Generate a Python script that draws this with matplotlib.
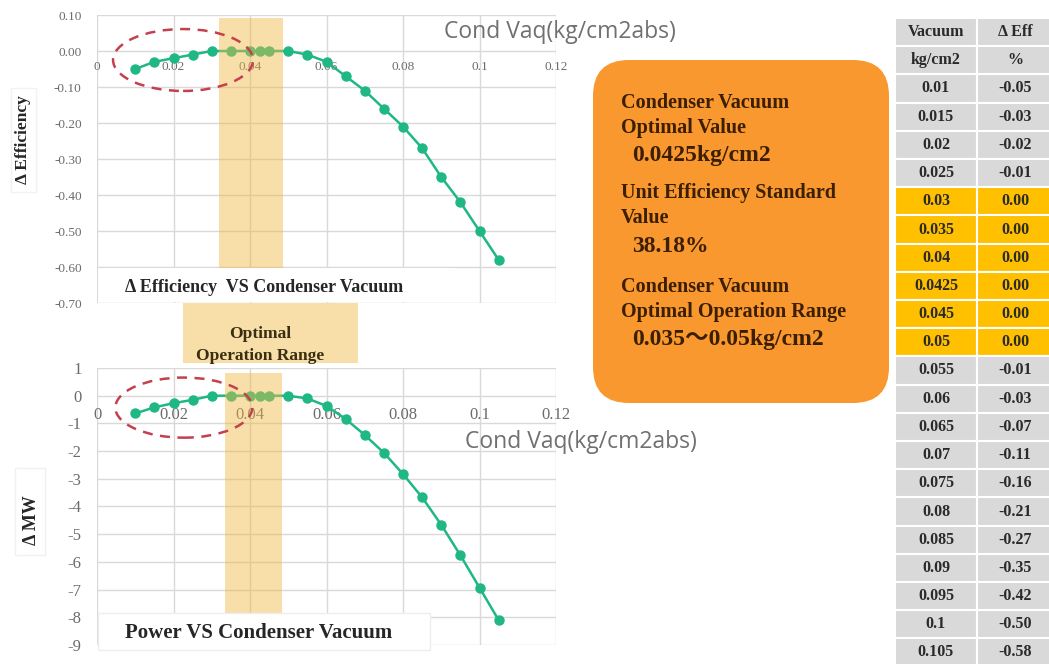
import matplotlib
matplotlib.use('Agg')
import matplotlib.pyplot as plt
from matplotlib.patches import Ellipse, FancyBboxPatch, Rectangle

# ---------------- data ----------------
vacuum = [0.01, 0.015, 0.02, 0.025, 0.03, 0.035, 0.04, 0.0425, 0.045, 0.05,
          0.055, 0.06, 0.065, 0.07, 0.075, 0.08, 0.085, 0.09, 0.095, 0.1, 0.105]
vacuum_labels = ['0.01', '0.015', '0.02', '0.025', '0.03', '0.035', '0.04', '0.0425',
                 '0.045', '0.05', '0.055', '0.06', '0.065', '0.07', '0.075', '0.08',
                 '0.085', '0.09', '0.095', '0.1', '0.105']
delta_eff = [-0.05, -0.03, -0.02, -0.01, 0.00, 0.00, 0.00, 0.00, 0.00, 0.00,
             -0.01, -0.03, -0.07, -0.11, -0.16, -0.21, -0.27, -0.35, -0.42, -0.50, -0.58]
delta_mw = [-0.64, -0.42, -0.27, -0.15, 0.0, 0.0, 0.0, 0.0, 0.0, 0.0,
            -0.10, -0.37, -0.84, -1.42, -2.06, -2.83, -3.67, -4.66, -5.76, -6.93, -8.10]

x_ticks = [0, 0.02, 0.04, 0.06, 0.08, 0.10, 0.12]
x_tick_labels = ['0', '0.02', '0.04', '0.06', '0.08', '0.1', '0.12']
eff_ticks = [0.1, 0.0, -0.1, -0.2, -0.3, -0.4, -0.5, -0.6, -0.7]
eff_tick_labels = ['0.10', '0.00', '-0.10', '-0.20', '-0.30', '-0.40', '-0.50', '-0.60', '-0.70']
mw_ticks = [1, 0, -1, -2, -3, -4, -5, -6, -7, -8, -9]
mw_tick_labels = ['1', '0', '-1', '-2', '-3', '-4', '-5', '-6', '-7', '-8', '-9']

eff_band = (0.032, 0.0487, -0.603, 0.092)     # x0, x1, y0, y1
mw_band = (0.0335, 0.0484, -7.87, 0.83)
eff_ellipse = (0.0225, -0.025, 0.0366, 0.172)  # cx, cy, w, h
mw_ellipse = (0.0227, -0.43, 0.0358, 2.17)

table_header = [('Vacuum', 'Δ Eff'), ('kg/cm2', '%')]
info_lines = ['Condenser Vacuum', 'Optimal Value', '0.0425kg/cm2',
              'Unit Efficiency Standard', 'Value', '38.18%',
              'Condenser Vacuum', 'Optimal Operation Range', '0.035～0.05kg/cm2']
info_is_value = [False, False, True, False, False, True, False, False, True]

# ---------------- styling / layout ----------------
W, H = 1049, 664
SERIF = ['Liberation Serif', 'DejaVu Serif']
SERIF_CJK = ['Liberation Serif', 'Noto Sans CJK JP', 'DejaVu Sans']
GREEN = '#1FB885'
BAND = '#F0B840'
BAND_ALPHA = 0.45
GRID = '#D9D9D9'
TICKC = '#6B6B6B'
RED = '#C4404F'
ORANGE = '#F8982F'
YELLOW = '#FFC000'
GRAY = '#D9D9D9'
info_y = [103, 128, 155, 193, 218, 247, 287, 312, 340]

fig = plt.figure(figsize=(W / 100, H / 100), dpi=100)


def px_axes(left, top, right, bottom):
    return [left / W, 1 - bottom / H, (right - left) / W, (bottom - top) / H]


def style_chart(ax, yticks, ylabels, ylim, xfs, yfs, xpad):
    ax.spines['bottom'].set_position(('data', 0))
    for s in ax.spines.values():
        s.set_visible(False)
    ax.set_xlim(0, 0.12)
    ax.set_ylim(*ylim)
    ax.set_xticks(x_ticks)
    ax.set_xticklabels(x_tick_labels, fontfamily=SERIF, fontsize=xfs, color=TICKC)
    ax.set_yticks(yticks)
    ax.set_yticklabels(ylabels, fontfamily=SERIF, fontsize=yfs, color=TICKC)
    ax.tick_params(axis='x', length=0, pad=xpad)
    ax.tick_params(axis='y', length=0, pad=11)
    ax.grid(True, color=GRID, lw=1.0, zorder=0)
    ax.set_axisbelow(True)


def draw_series(ax, y, band, ell):
    ax.plot(vacuum, y, color=GREEN, lw=1.8, marker='o', ms=6.5, zorder=3, clip_on=False)
    x0, x1, y0, y1 = band
    ax.add_patch(Rectangle((x0, y0), x1 - x0, y1 - y0, facecolor=BAND, alpha=BAND_ALPHA,
                           edgecolor='none', zorder=4, clip_on=False))
    cx, cy, w, h = ell
    ax.add_patch(Ellipse((cx, cy), w, h, facecolor='none', edgecolor=RED, lw=1.8,
                         linestyle=(0, (4, 3)), zorder=5, clip_on=False))


# top chart
ax1 = fig.add_axes(px_axes(97, 15, 556, 303))
style_chart(ax1, eff_ticks, eff_tick_labels, (-0.7, 0.1), 9.5, 9.5, 7)
draw_series(ax1, delta_eff, eff_band, eff_ellipse)

# bottom chart
ax2 = fig.add_axes(px_axes(97, 368, 556, 645))
style_chart(ax2, mw_ticks, mw_tick_labels, (-9, 1), 12, 12, 8)
draw_series(ax2, delta_mw, mw_band, mw_ellipse)

# overlay in pixel coordinates
ov = fig.add_axes([0, 0, 1, 1], zorder=10)
ov.set_xlim(0, W)
ov.set_ylim(H, 0)
ov.axis('off')
ov.patch.set_alpha(0)

# chart title boxes
ov.add_patch(Rectangle((98, 268), 357, 34, facecolor='white', edgecolor='none'))
ov.text(125, 287, 'Δ Efficiency  VS Condenser Vacuum', fontfamily=SERIF, fontweight='bold',
        fontsize=13, color='#262626', ha='left', va='center')
ov.add_patch(Rectangle((98, 613), 332, 37, facecolor='white', edgecolor='#EEEEEE', lw=1))
ov.text(125, 633, 'Power VS Condenser Vacuum', fontfamily=SERIF, fontweight='bold',
        fontsize=15, color='#262626', ha='left', va='center')

# axis labels
ov.add_patch(Rectangle((11, 88), 25, 104, facecolor='white', edgecolor='#F2F2F2', lw=1))
ov.text(23, 140, 'Δ Efficiency', rotation=90, fontfamily=SERIF, fontweight='bold',
        fontsize=12.5, color='#262626', ha='center', va='center')
ov.add_patch(Rectangle((15, 468), 30, 87, facecolor='white', edgecolor='#F0F0F0', lw=1))
ov.text(32, 520, 'Δ MW', rotation=90, fontfamily=SERIF, fontweight='bold',
        fontsize=13, color='#262626', ha='center', va='center')

# axis titles
for (tx, ty) in ((444, 32), (465, 442)):
    ov.text(tx, ty, 'Cond Vaq(kg/cm2abs)', fontfamily=['Open Sans', 'DejaVu Sans'],
            fontsize=16.5, color='#707070', ha='left', va='center')

# optimal operation range label
ov.add_patch(Rectangle((183, 303), 175, 60, facecolor=BAND, alpha=BAND_ALPHA, edgecolor='none'))
ov.text(260, 334, 'Optimal', fontfamily=SERIF, fontweight='bold', fontsize=12.5,
        color='#3A2E10', ha='center', va='center')
ov.text(260, 356, 'Operation Range', fontfamily=SERIF, fontweight='bold', fontsize=12.5,
        color='#3A2E10', ha='center', va='center')

# orange info box
ov.add_patch(FancyBboxPatch((593, 60), 296, 343, boxstyle='round,pad=0,rounding_size=36',
                            facecolor=ORANGE, edgecolor='none'))
for text, big, yy in zip(info_lines, info_is_value, info_y):
    if big:
        ov.text(632, yy, text, fontfamily=SERIF_CJK, fontweight='bold', fontsize=17,
                color='#3C1E00', ha='left', va='center')
    else:
        ov.text(621, yy, text, fontfamily=SERIF, fontweight='bold', fontsize=14.5,
                color='#3C1E00', ha='left', va='center')

# table
t_left, t_mid, t_right = 895, 977, 1055
t_top, row_h = 18, 28.2
col_centers = (936, 1015)
rows = list(table_header) + [(v, '%.2f' % e) for v, e in zip(vacuum_labels, delta_eff)]
for i, (a, b) in enumerate(rows):
    ytop = t_top + i * row_h
    fc = YELLOW if (i >= 2 and delta_eff[i - 2] == 0) else GRAY
    for (x0, x1, cxx, txt) in ((t_left, t_mid, col_centers[0], a),
                               (t_mid, t_right, col_centers[1], b)):
        ov.add_patch(Rectangle((x0, ytop), x1 - x0, row_h, facecolor=fc,
                               edgecolor='white', lw=1.5))
        ov.text(cxx, ytop + row_h / 2, txt, fontfamily=SERIF, fontweight='bold',
                fontsize=11.5, color='#2A2A2A', ha='center', va='center')

fig.savefig('out.png', dpi=100)
